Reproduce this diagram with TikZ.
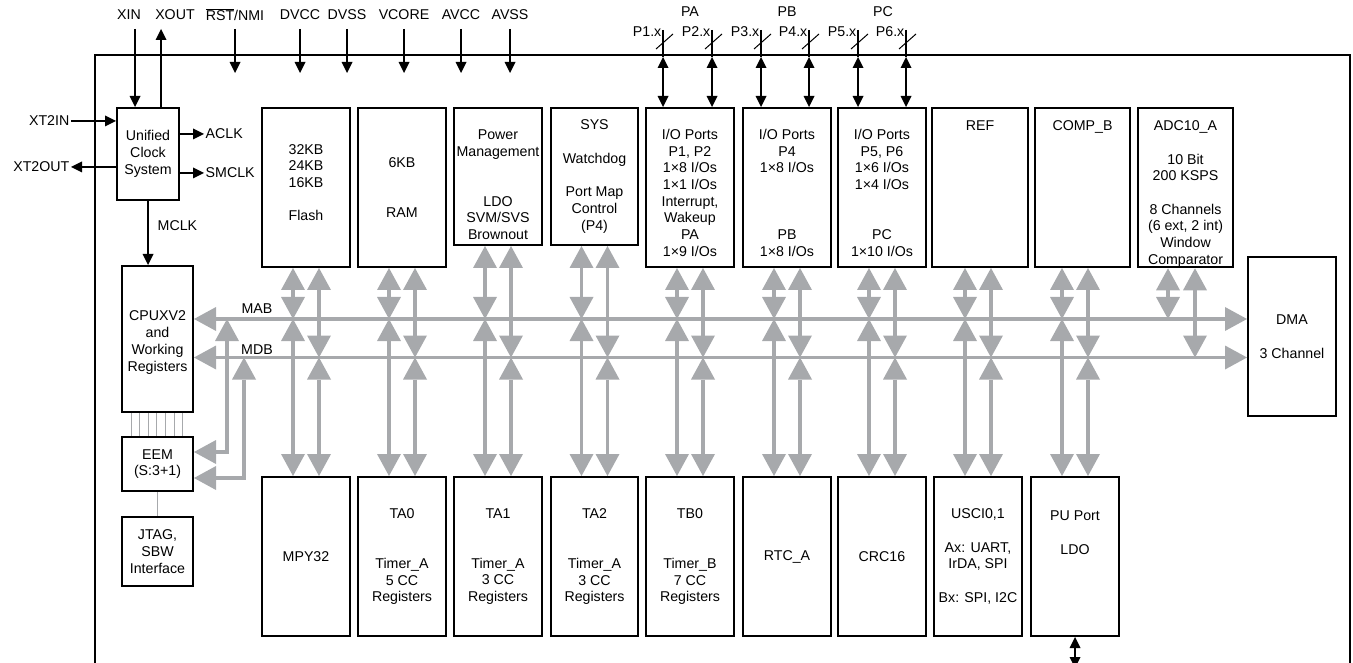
\documentclass[tikz,border=0pt]{standalone}
\usepackage{fontspec}
\setmainfont{Liberation Sans}
\usetikzlibrary{arrows.meta}
\definecolor{busgray}{RGB}{167,169,172}
\newcommand{\tophi}[1]{\rule{0pt}{#1pt}}
\newcommand{\botlo}[1]{\rule[-#1pt]{0pt}{0pt}}

\begin{document}
\begin{tikzpicture}[x=1pt,y=-1pt,
    every node/.style={font=\fontsize{14.2}{16.7}\selectfont},
    blk/.style={draw,line width=2pt,align=center,inner xsep=2pt,inner ysep=0pt,
      minimum width=88pt,minimum height=159pt},
    lbl/.style={inner sep=1.5pt},
    sig/.style={line width=1.2pt,-{Triangle[width=11pt,length=11pt,line width=0pt]}},
    sigboth/.style={line width=1.2pt,
      {Triangle[width=11pt,length=11pt,line width=0pt]}-{Triangle[width=11pt,length=11pt,line width=0pt]}},
    bus/.style={busgray,line width=3.5pt,
      {Triangle[width=24pt,length=22pt,line width=0pt]}-{Triangle[width=24pt,length=22pt,line width=0pt]}},
    wire/.style={busgray,line width=0.8pt}]
  \useasboundingbox (0,0) rectangle (1353,663);
  \clip (0,0) rectangle (1353,663);

  % device outline
  \draw[line width=2pt] (95,700) -- (95,55) -- (1350,55) -- (1350,700);

  % left column
  \node[blk,minimum width=62pt,minimum height=92pt] (clock) at (148,154) {Unified\\Clock\\System};
  \node[blk,minimum width=71pt,minimum height=146pt] (cpu) at (157.5,339) {\tophi{17}CPUXV2\\and\\Working\\Registers};
  \node[blk,minimum width=71pt,minimum height=54pt] (eem) at (157.5,464) {EEM\\(S:3+1)};
  \node[blk,minimum width=71pt,minimum height=69pt] (jtag) at (157.5,551.5) {JTAG,\\SBW\\Interface};

  % top row
  \node[blk] (flash) at (306,187.5) {32KB\\24KB\\16KB\\[16.7pt]Flash\botlo{10}};
  \node[blk] (ram) at (402,187.5) {6KB\\[33.4pt]RAM};
  \node[blk,minimum height=137pt] (pmm) at (498,176.5) {\tophi{26}Power\\Management\\[33.4pt]LDO\\SVM/SVS\\Brownout};
  \node[blk,minimum width=87pt,minimum height=137pt] (sys) at (594.5,176.5) {SYS\\[16.7pt]Watchdog\\[16.7pt]Port Map\\Control\\(P4)};
  \node[blk] (pa) at (690,187.5) {\tophi{21}I/O Ports\\P1, P2\\1×8 I/Os\\1×1 I/Os\\Interrupt,\\Wakeup\\PA\\1×9 I/Os};
  \node[blk] (pb) at (787,187.5) {\tophi{21}I/O Ports\\P4\\1×8 I/Os\\[50pt]PB\\1×8 I/Os};
  \node[blk] (pc) at (882,187.5) {\tophi{21}I/O Ports\\P5, P6\\1×6 I/Os\\1×4 I/Os\\[33.4pt]PC\\1×10 I/Os};
  \node[blk,minimum width=96pt] (ref) at (980,187.5) {REF\botlo{123}};
  \node[blk,minimum width=95pt] (comp) at (1082.5,187.5) {COMP\_B\botlo{123}};
  \node[blk,minimum width=95pt] (adc) at (1185.5,187.5) {\tophi{23}ADC10\_A\\[16.7pt]10 Bit\\200 KSPS\\[16.7pt]8 Channels\\(6 ext, 2 int)\\Window\\Comparator};
  \node[blk] (dma) at (1292,336.5) {DMA\\[16.7pt]3 Channel};

  % bottom row
  \node[blk] (mpy) at (306,556.5) {MPY32};
  \node[blk] (tazero) at (402,556.5) {TA0\\[33.4pt]Timer\_A\\5 CC\\Registers};
  \node[blk] (taone) at (498,556.5) {TA1\\[33.4pt]Timer\_A\\3 CC\\Registers};
  \node[blk,minimum width=87pt] (tatwo) at (594.5,556.5) {TA2\\[33.4pt]Timer\_A\\3 CC\\Registers};
  \node[blk] (tbzero) at (690,556.5) {TB0\\[33.4pt]Timer\_B\\7 CC\\Registers};
  \node[blk] (rtc) at (787,556.5) {RTC\_A};
  \node[blk] (crc) at (882,556.5) {CRC16};
  \node[blk] (usci) at (978,556.5) {USCI0,1\\[16.7pt]Ax: UART,\\IrDA, SPI\\[16.7pt]Bx: SPI, I2C};
  \node[blk] (puport) at (1075,556.5) {PU Port\\[16.7pt]LDO\botlo{48}};

  % supply and control pins
  \node[lbl] (xin) at (129,15) {XIN};
  \node[lbl] (xout) at (175,15) {XOUT};
  \node[lbl] (rst) at (235,15) {$\overline{\hbox{RST}}$/NMI};
  \node[lbl] (dvcc) at (300,15) {DVCC};
  \node[lbl] (dvss) at (347,15) {DVSS};
  \node[lbl] (vcore) at (404,15) {VCORE};
  \node[lbl] (avcc) at (461,15) {AVCC};
  \node[lbl] (avss) at (510,15) {AVSS};
  \coordinate (pintop) at (0,29);
  \coordinate (pintip) at (0,73);
  \coordinate (xinpin) at (135,29);
  \coordinate (xoutpin) at (161,29);
  \draw[sig] (xinpin) -- (xinpin |- clock.north);
  \draw[sig] (xoutpin |- clock.north) -- (xoutpin);
  \foreach \p in {rst,dvcc,dvss,vcore,avcc,avss}
    \draw[sig] (\p |- pintop) -- (\p |- pintip);

  % clock signals
  \node[lbl,anchor=east] (xttwoin) at (71,121) {XT2IN};
  \node[lbl,anchor=east] (xttwoout) at (71,167) {XT2OUT};
  \node[lbl,anchor=west] (aclk) at (204,134) {ACLK};
  \node[lbl,anchor=west] (smclk) at (204,173) {SMCLK};
  \node[lbl,anchor=west] (mclk) at (156,226) {MCLK};
  \draw[sig] (xttwoin.east) -- (xttwoin.east -| clock.west);
  \draw[sig] (xttwoout.east -| clock.west) -- (xttwoout.east);
  \draw[sig] (aclk.west -| clock.east) -- (aclk.west);
  \draw[sig] (smclk.west -| clock.east) -- (smclk.west);
  \draw[sig] (clock.south) -- (clock.south |- cpu.north);

  % port pins
  \node[lbl] (porta) at (690,12) {PA};
  \node[lbl] (portb) at (787,12) {PB};
  \node[lbl] (portc) at (883,12) {PC};
  \coordinate (frametop) at (0,57);
  \foreach \n/\x/\t in {1/663/pa,2/712/pa,3/761/pb,4/809/pb,5/858/pc,6/906/pc}{
    \node[lbl,anchor=east] (pin\n) at (\x,32) {P\n.x};
    \coordinate (top\n) at (\x,30);
    \draw[line width=1.2pt] (top\n) -- (top\n |- frametop);
    \draw[sigboth] (top\n |- frametop) -- (top\n |- \t.north);
    \draw[line width=1pt] (\x-7,49) -- (\x+10,34);
  }

  % buses
  \coordinate (mab) at (0,319);
  \coordinate (mdb) at (0,357.5);
  \draw[bus] (cpu.east |- mab) -- (dma.west |- mab);
  \draw[bus] (cpu.east |- mdb) -- (dma.west |- mdb);
  \node[lbl,anchor=base] (mablab) at (257,313) {MAB};
  \node[lbl,anchor=base] (mdblab) at (257,354) {MDB};

  \foreach \t/\b in {flash/mpy,ram/tazero,pmm/taone,sys/tatwo,pa/tbzero,pb/rtc,pc/crc,ref/usci,comp/puport}{
    \coordinate (l) at ([xshift=-13]\b.north);
    \coordinate (r) at ([xshift=13]\b.north);
    \draw[bus] (l |- \t.south) -- (l |- mab);
    \draw[bus] (r |- \t.south) -- (r |- mdb);
    \draw[bus] (l |- mab) -- (l);
    \draw[bus] (r |- mdb) -- (r);
  }
  \coordinate (al) at ([xshift=-17.5]adc.south);
  \coordinate (ar) at ([xshift=9.5]adc.south);
  \draw[bus] (al) -- (al |- mab);
  \draw[bus] (ar) -- (ar |- mdb);

  % debug path
  \coordinate (eema) at (227,0);
  \coordinate (eemd) at (244,0);
  \draw[bus] (eema |- mab) |- ([yshift=12]eem.east);
  \draw[bus] (eemd |- mdb) |- ([yshift=-14]eem.east);
  \foreach \i in {0,...,6}{
    \coordinate (w) at ([xshift=10+\i*8.6]cpu.south west);
    \draw[wire] (w) -- (w |- eem.north);
  }
  \draw[wire] (eem.south) -- (jtag.north);

  \coordinate (puout) at (1075,668);
  \draw[sigboth] (puport.south) -- (puout);
\end{tikzpicture}
\end{document}
